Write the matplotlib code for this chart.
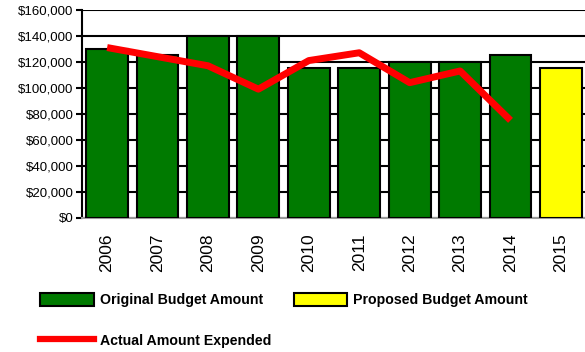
import matplotlib.pyplot as plt
import numpy as np
from matplotlib.patches import Patch
from matplotlib.lines import Line2D

plt.rcParams['font.family'] = ['Liberation Sans', 'DejaVu Sans']

years = ['2006', '2007', '2008', '2009', '2010', '2011', '2012', '2013', '2014', '2015']
original = [130000, 125000, 140000, 140000, 115000, 115000, 120000, 120000, 125000, None]
proposed = [None, None, None, None, None, None, None, None, None, 115000]
actual = [131000, 124000, 117000, 99000, 121000, 127000, 104000, 113000, 75000]

x = np.arange(len(years))

fig = plt.figure(figsize=(5.85, 3.52), dpi=100)
ax = fig.add_axes([0.14, 0.381, 0.862, 0.591])

orig_x = [i for i, v in enumerate(original) if v is not None]
orig_v = [v for v in original if v is not None]
prop_x = [i for i, v in enumerate(proposed) if v is not None]
prop_v = [v for v in proposed if v is not None]

ax.bar(orig_x, orig_v, width=0.83, color='#007A00', edgecolor='black', linewidth=1.5, zorder=3)
ax.bar(prop_x, prop_v, width=0.83, color='#FFFF00', edgecolor='black', linewidth=1.5, zorder=3)
ax.plot(x[:len(actual)], actual, color='#FF0000', linewidth=5, zorder=4, solid_capstyle='butt')

ax.set_xlim(-0.5, len(years) - 0.5)
ax.set_ylim(0, 160000)
ax.set_yticks(np.arange(0, 160001, 20000))
ax.set_yticklabels(['${:,}'.format(v) for v in range(0, 160001, 20000)], fontsize=9.5)
ax.set_xticks(x)
ax.set_xticklabels(years, rotation=90, fontsize=12.5)
ax.tick_params(axis='x', length=0, pad=11)
ax.tick_params(axis='y', length=4, width=1.5, direction='out', pad=2)

ax.yaxis.grid(True, color='black', linewidth=1.5, zorder=0)
ax.set_axisbelow(True)
ax.spines['right'].set_visible(False)
ax.spines['top'].set_visible(False)
ax.spines['left'].set_linewidth(1.5)
ax.spines['bottom'].set_color('#999999')
ax.spines['bottom'].set_linewidth(1.5)

handles = [Patch(facecolor='#007A00', edgecolor='black', linewidth=1.5),
           Line2D([0], [0], color='#FF0000', linewidth=4.5),
           Patch(facecolor='#FFFF00', edgecolor='black', linewidth=1.5)]
labels = ['Original Budget Amount', 'Actual Amount Expended', 'Proposed Budget Amount']
fig.legend(handles, labels, ncol=2, loc='upper left', bbox_to_anchor=(0.068, 0.168),
           frameon=False, prop={'weight': 'bold', 'size': 10.2},
           handlelength=3.8, handleheight=1.1, handletextpad=0.42,
           columnspacing=1.6, labelspacing=1.8, borderaxespad=0, borderpad=0)

fig.savefig('out.png', dpi=100)
